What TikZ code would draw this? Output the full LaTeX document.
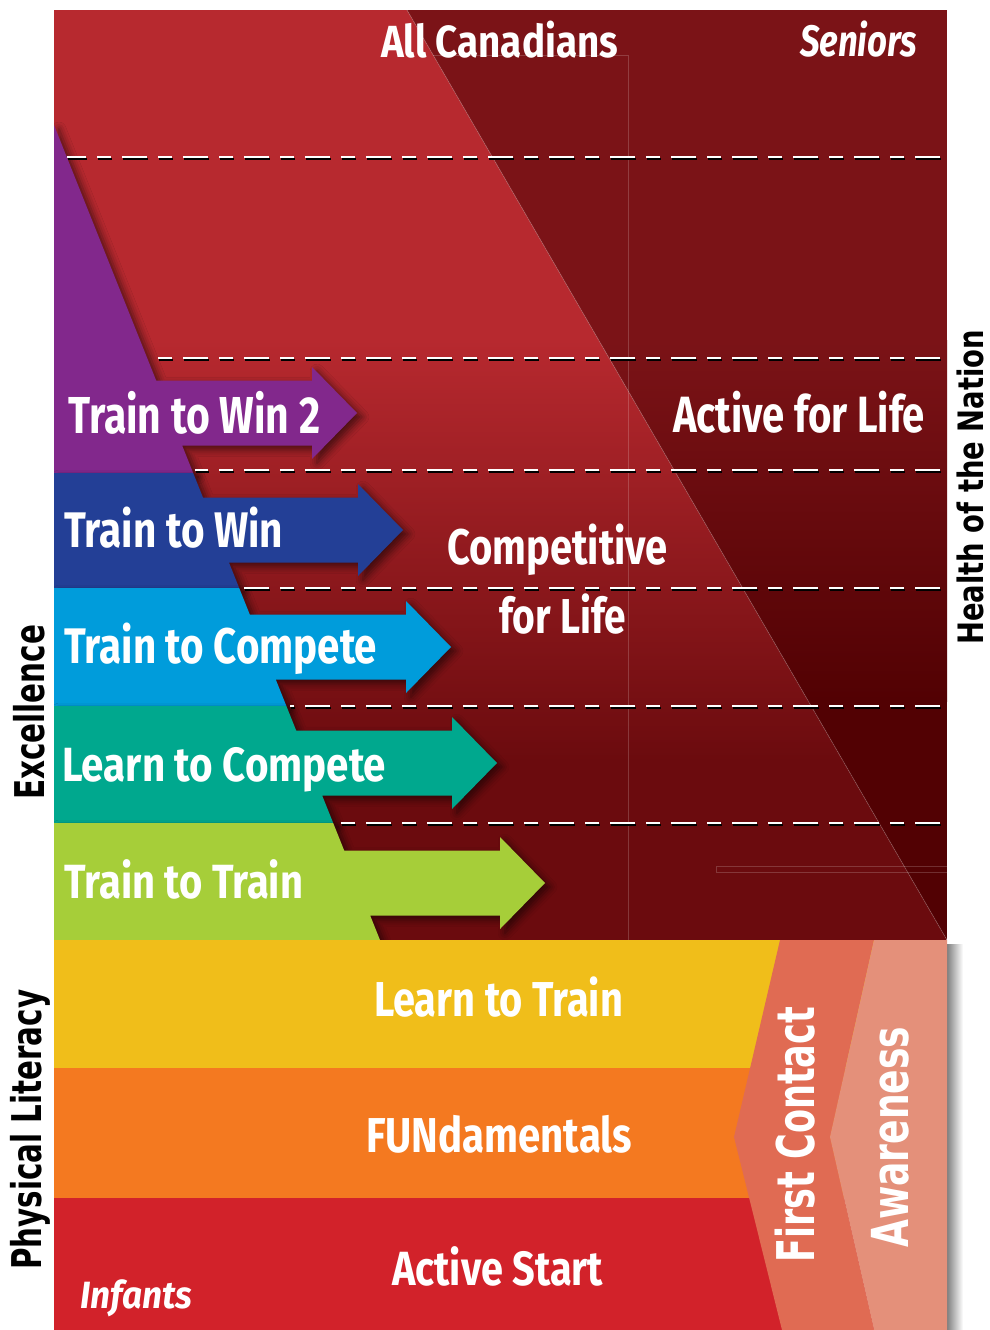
\documentclass[tikz,border=0pt]{standalone}
\usepackage{fontspec}
\usepackage{graphicx}
\usetikzlibrary{shadows.blur}
\newfontfamily\labfont{Fira Sans}
\newfontfamily\sidefont{DejaVu Sans}
\definecolor{lredA}{HTML}{B7292F}
\definecolor{lredB}{HTML}{6B0B0E}
\definecolor{dredA}{HTML}{7B1317}
\definecolor{dredB}{HTML}{520103}
\definecolor{cpurple}{HTML}{82288C}
\definecolor{cblue}{HTML}{233F96}
\definecolor{ccyan}{HTML}{009CDB}
\definecolor{cteal}{HTML}{00A88E}
\definecolor{cgreen}{HTML}{A6CE39}
\definecolor{cyellow}{HTML}{F0BE1A}
\definecolor{corange}{HTML}{F47920}
\definecolor{cred}{HTML}{D2222A}
\definecolor{csalmon}{HTML}{E06B53}
\definecolor{clsalmon}{HTML}{E4907A}
\newcommand\fitt[3]{\fontsize{#1}{#1}\selectfont\resizebox{#2pt}{\height}{#3}}
\newcommand\arrowband[5]{%
  \fill[#1, bandshadow] (54,#2) -- ({0.4*#2+4},#2) -- ({0.4*(#4-32.5)+4},#4-32.5)
    -- (#5-45,#4-32.5) -- (#5-45,#4-46) -- (#5,#4) -- (#5-45,#4+46) -- (#5-45,#4+32.5)
    -- ({0.4*(#4+32.5)+4},#4+32.5) -- ({0.4*#3+4},#3) -- (54,#3) -- cycle;}
\tikzset{
  bandshadow/.style={blur shadow={shadow xshift=5pt, shadow yshift=-4pt, shadow blur radius=7pt, shadow opacity=55}},
  dashline/.style={white, line width=2.6pt, dash pattern=on 25pt off 11pt on 14pt off 11pt},
  dashshadow/.style={black, line width=2.6pt, dash pattern=on 25pt off 11pt on 14pt off 11pt},
  wlab/.style={text=white, inner sep=0pt, font=\labfont\bfseries},
  wlabi/.style={text=white, inner sep=0pt, font=\labfont\bfseries\itshape},
  slab/.style={inner sep=0pt, font=\sidefont\bfseries, rotate=90, anchor=base west},
  faint/.style={white, opacity=0.18, line width=0.8pt},
}
\begin{document}
\begin{tikzpicture}[x=1pt,y=-1pt]
\useasboundingbox (0,0) rectangle (989,1330);
% top panel
\begin{scope}
  \clip (54,10) -- (407,10) -- (947,940) -- (54,940) -- cycle;
  \fill[lredA] (54,10) rectangle (947,341);
  \shade[top color=lredA, bottom color=lredB] (54,340) rectangle (947,761);
  \fill[lredB] (54,760) rectangle (947,940);
\end{scope}
\begin{scope}
  \clip (407,10) -- (947,10) -- (947,940) -- cycle;
  \fill[dredA] (54,10) rectangle (947,341);
  \shade[top color=dredA, bottom color=dredB] (54,340) rectangle (947,701);
  \fill[dredB] (54,700) rectangle (947,940);
\end{scope}
\draw[faint] (407,10) -- (947,940);
\draw[faint] (433,55) -- (628,55) -- (628,940);
\draw[faint] (947,866) -- (716,866) -- (716,872) -- (947,872);
% coloured bands
\begin{scope}
  \clip (54,10) rectangle (947,940);
  \arrowband{cpurple}{125}{473}{413}{357}
  \arrowband{cblue}{473}{588}{530}{403}
  \arrowband{ccyan}{588}{706}{647}{451}
  \arrowband{cteal}{706}{823}{763}{497}
  \arrowband{cgreen}{823}{940}{883}{545}
\end{scope}
% dashed lines
\foreach \yy/\xs/\ph in {157/67/6, 358/150/28, 470/195/12, 588/242/59, 706/290/46, 823/337/32} {
  \draw[dashshadow, dash phase=\ph pt] (\xs+1,\yy+2) -- (944,\yy+2);
  \draw[dashline, dash phase=\ph pt] (\xs,\yy) -- (943,\yy);
}
% lower block
\shade[left color=black!50, right color=white] (947,944) rectangle (963,1330);
\fill[cyellow] (54,940) rectangle (947,1068);
\fill[corange] (54,1068) rectangle (947,1198);
\fill[cred] (54,1198) rectangle (947,1330);
\fill[csalmon] (780,940) -- (874,940) -- (830,1137) -- (874,1330) -- (782,1330) -- (734,1137) -- cycle;
\fill[clsalmon] (874,940) -- (947,940) -- (947,1330) -- (874,1330) -- (830,1137) -- cycle;
% texts
\node[wlab, anchor=base] (allc) at (499.5,57) {\fitt{45}{237}{All Canadians}};
\node[wlabi, anchor=base] (sen) at (858.5,57) {\fitt{44}{117}{Seniors}};
\node[wlab, anchor=base west] (ttw2) at (68,433) {\fitt{52}{252}{Train to Win 2}};
\node[wlab, anchor=base] (afl) at (799,432) {\fitt{51}{252}{Active for Life}};
\node[wlab, anchor=base west] (ttw) at (64,547) {\fitt{50}{219}{Train to Win}};
\node[wlab, anchor=base west] (ttc) at (64,663) {\fitt{50}{313}{Train to Compete}};
\node[wlab, anchor=base west] (ltc) at (62,781) {\fitt{48}{324}{Learn to Compete}};
\node[wlab, anchor=base west] (ttt) at (64,898) {\fitt{48}{239}{Train to Train}};
\node[wlab, anchor=base] (comp) at (557.5,564) {\fitt{50}{221}{Competitive}};
\node[wlab, anchor=base] (ffl) at (562.5,633) {\fitt{49}{127}{for Life}};
\node[wlab, anchor=base] (ltt) at (498.5,1016) {\fitt{49}{249}{Learn to Train}};
\node[wlab, anchor=base] (fun) at (499,1152) {\fitt{49}{266}{FUNdamentals}};
\node[wlab, anchor=base] (ast) at (497.5,1285) {\fitt{48}{211}{Active Start}};
\node[wlabi, anchor=base] (inf) at (136,1308) {\fitt{38}{112}{Infants}};
\node[slab] (exc) at (44,800) {\fitt{41}{175}{Excellence}};
\node[slab] (phl) at (41,1270) {\fitt{41}{280}{Physical Literacy}};
\node[slab] (hon) at (983,645) {\fitt{35}{315}{Health of the Nation}};
\node[slab, text=white] (fc) at (814,1263) {\fitt{52}{256}{First Contact}};
\node[slab, text=white] (aw) at (908,1248) {\fitt{51}{221}{Awareness}};
\end{tikzpicture}
\end{document}
